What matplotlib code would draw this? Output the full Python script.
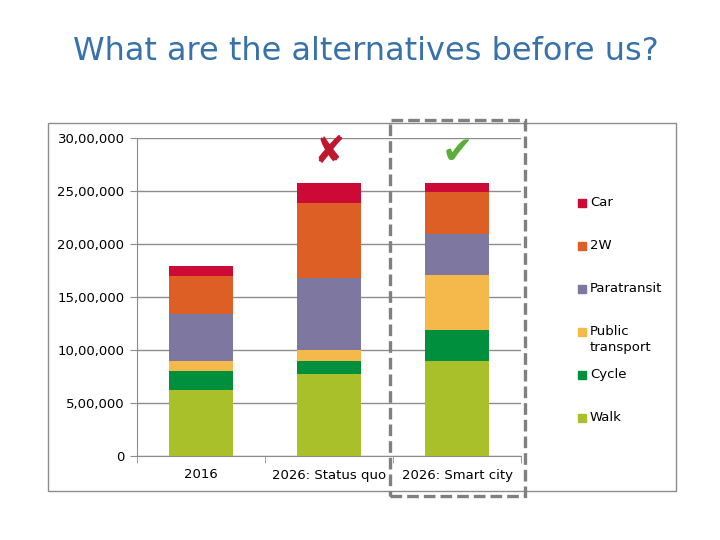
import numpy as np
import matplotlib.pyplot as plt
from matplotlib.patches import Rectangle

# data (people per mode)
scenarios = ['2016', '2026: Status quo', '2026: Smart city']
modes = ['Walk', 'Cycle', 'Public\ntransport', 'Paratransit', '2W', 'Car']
walk = [620000, 770000, 900000]
cycle = [180000, 130000, 290000]
public_transport = [100000, 100000, 520000]
paratransit = [440000, 680000, 380000]
two_wheeler = [360000, 710000, 400000]
car = [90000, 190000, 90000]
yticks = [0, 500000, 1000000, 1500000, 2000000, 2500000, 3000000]

series = [walk, cycle, public_transport, paratransit, two_wheeler, car]
colors = ['#A9C02A', '#00903D', '#F4B84B', '#7E78A0', '#DE5F26', '#CC0A35']


def indian_format(v):
    v = int(v)
    s = str(v)
    if len(s) <= 3:
        return s
    head, tail = s[:-3], s[-3:]
    parts = []
    while len(head) > 2:
        parts.insert(0, head[-2:])
        head = head[:-2]
    if head:
        parts.insert(0, head)
    return ','.join(parts) + ',' + tail


fig = plt.figure(figsize=(7.2, 5.4), dpi=100)
W, H = 720, 540

# title
fig.text(366 / W, 1 - 51 / H, 'What are the alternatives before us?',
         ha='center', va='center', fontsize=23, color='#3872AA')

# outer chart frame
fig.patches.append(Rectangle((48 / W, 1 - 491 / H), 628 / W, 368 / H,
                             transform=fig.transFigure, fill=False,
                             edgecolor='#8C8C8C', lw=1))

ax = fig.add_axes([137 / W, 1 - 456 / H, 384 / W, 318 / H])
x = np.arange(len(scenarios))
bottom = np.zeros(len(scenarios))
for vals, col, name in zip(series, colors, modes):
    ax.bar(x, vals, width=0.5, bottom=bottom, color=col, label=name, zorder=3)
    bottom += np.array(vals)

ax.set_xlim(-0.5, 2.5)
ax.set_ylim(0, 3000000)
ax.set_yticks(yticks)
ax.set_yticklabels([indian_format(v) for v in yticks], fontsize=9.5)
ax.yaxis.grid(True, color='#8C8C8C', lw=1, zorder=0)
ax.set_xticks(x)
ax.set_xticklabels(scenarios, fontsize=9.5)
ax.set_xticks([-0.5, 0.5, 1.5, 2.5], minor=True)
ax.tick_params(axis='x', which='major', length=0, pad=9)
ax.tick_params(axis='x', which='minor', length=5, color='#8C8C8C')
ax.tick_params(axis='y', length=5, color='#8C8C8C', pad=4)
for side in ['top', 'right']:
    ax.spines[side].set_visible(False)
for side in ['left', 'bottom']:
    ax.spines[side].set_color('#8C8C8C')

# cross and tick marks above the 2026 bars
ax.text(1, 2860000, '\u2718', ha='center', va='center', fontsize=27, color='#C0172F')
ax.text(2, 2860000, '\u2714', ha='center', va='center', fontsize=27, color='#5BAE3A')

# dashed box around smart city
fig.patches.append(Rectangle((390 / W, 1 - 496 / H), 135 / W, 376 / H,
                             transform=fig.transFigure, fill=False,
                             edgecolor='#808080', lw=2.4, linestyle=(0, (3.5, 1.5))))

# legend drawn by hand (top entry = Car)
leg_y = 1 - 203 / H
for i, (name, col) in enumerate(zip(modes[::-1], colors[::-1])):
    y = leg_y - i * 43 / H
    fig.patches.append(Rectangle((578 / W, y - 4 / H), 8 / W, 8 / H,
                                 transform=fig.transFigure, color=col))
    fig.text(590 / W, y + 7 / H, name, ha='left', va='top', fontsize=9.5,
             linespacing=1.25)

fig.savefig('out.png', dpi=100)
